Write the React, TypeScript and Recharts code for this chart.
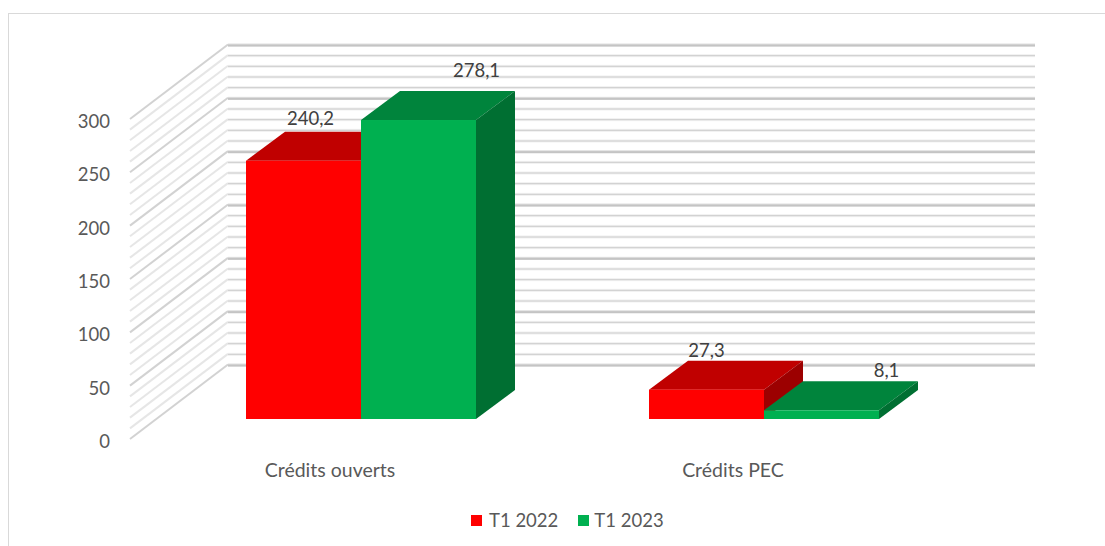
import { BarChart, Bar, XAxis, YAxis, Legend, LabelList, CartesianGrid } from 'recharts';

const categories = ['Crédits ouverts', 'Crédits PEC'];
const t12022 = [240.2, 27.3];
const t12023 = [278.1, 8.1];
const gridTicks = [0, 10, 20, 30, 40, 50, 60, 70, 80, 90, 100, 110, 120, 130, 140, 150, 160, 170, 180, 190, 200, 210, 220, 230, 240, 250, 260, 270, 280, 290, 300];

const data = categories.map((name, i) => ({ name, t12022: t12022[i], t12023: t12023[i] }));

const FONT = 'Lato, sans-serif';
// depth of the fake 3D box and of the walls
const BAR_DX = 39;
const BAR_DY = 29;
const WALL_DX = 98;
const WALL_DY = 74.5;
const WALL_LEFT = 130;
const WALL_RIGHT = 1035;

// hand placed labels, like in the original sheet
const redNudge = [{ dx: 7, dy: -14 }, { dx: 0, dy: -11 }];
const greenNudge = [{ dx: 58, dy: -21 }, { dx: 65, dy: -11 }];

function Box({ x, y, width, height, front, top, side }: any) {
  const r = x + width;
  const b = y + height;
  return (
    <g>
      <polygon points={`${x},${y} ${r},${y} ${r + BAR_DX},${y - BAR_DY} ${x + BAR_DX},${y - BAR_DY}`} fill={top} />
      <polygon points={`${r},${y} ${r + BAR_DX},${y - BAR_DY} ${r + BAR_DX},${b - BAR_DY} ${r},${b}`} fill={side} />
      <rect x={x} y={y} width={width} height={height} fill={front} />
    </g>
  );
}

// side wall and back wall for one grid line, y comes from the axis scale
function WallLine({ y1, index }: any) {
  const major = gridTicks[index] % 50 === 0;
  const backY = y1 - WALL_DY;
  const x1 = WALL_LEFT;
  const x2 = WALL_LEFT + WALL_DX;
  return (
    <g key={index}>
      <line x1={x1} y1={y1} x2={x2} y2={backY} stroke={major ? '#d2d2d2' : '#e6e6e6'} strokeWidth={2} />
      <rect x={x2} y={backY - 1} width={WALL_RIGHT - x2} height={3} fill={major ? '#e0e0e0' : '#f0f0f0'} />
      <rect x={x2} y={backY} width={WALL_RIGHT - x2} height={major ? 2 : 1} fill={major ? '#c4c4c4' : '#cdcdcd'} />
    </g>
  );
}

function ValueTick({ y, payload }: any) {
  if (payload.value % 50 !== 0) return <g />;
  return (
    <text x={110} y={y} dy={9} textAnchor="end" fontFamily={FONT} fontSize={18.5} fill="#595959">
      {payload.value}
    </text>
  );
}

function CategoryTick({ x, y, payload }: any) {
  return (
    <text x={x - 30.5} y={y + 30} textAnchor="middle" fontFamily={FONT} fontSize={19.5} fill="#595959">
      {payload.value}
    </text>
  );
}

function makeLabel(nudge: { dx: number; dy: number }[]) {
  return function ValueLabel({ x, y, width, value, index }: any) {
    const n = nudge[index];
    return (
      <text
        x={x + width / 2 + n.dx}
        y={y - BAR_DY + n.dy}
        dy={7}
        textAnchor="middle"
        fontFamily={FONT}
        fontSize={18.5}
        fill="#404040"
      >
        {String(value).replace('.', ',')}
      </text>
    );
  };
}

function LegendRow({ payload }: any) {
  return (
    <div style={{ display: 'flex', fontFamily: FONT, fontSize: 18.5, color: '#595959', lineHeight: '20px' }}>
      {(payload || []).map((p: any, i: number) => (
        <div key={p.value} style={{ display: 'flex', alignItems: 'center', marginRight: i === 0 ? 20 : 0 }}>
          <span style={{ width: 11, height: 11, background: p.color, marginRight: i === 0 ? 7 : 5 }} />
          {p.value}
        </div>
      ))}
    </div>
  );
}

export default function App() {
  return (
    <div style={{ position: 'fixed', left: 0, top: 0, width: 1105, height: 546, overflow: 'hidden', background: '#fff' }}>
      <div
        style={{
          position: 'absolute',
          left: 8,
          top: 13,
          width: 1097,
          height: 533,
          borderLeft: '1px solid #d9d9d9',
          borderTop: '1.5px solid #d9d9d9',
          boxSizing: 'border-box',
        }}
      />
      <div style={{ position: 'absolute', left: 0, top: 0 }}>
        <BarChart
          width={1105}
          height={546}
          data={data}
          barSize={115}
          barGap={0}
          margin={{ top: 44, right: 140, bottom: 106, left: 158 }}
        >
          <CartesianGrid yAxisId="walls" vertical={false} syncWithTicks horizontal={(props: any) => <WallLine {...props} />} />
          <XAxis dataKey="name" axisLine={false} tickLine={false} tick={<CategoryTick />} interval={0} height={1} />
          <YAxis
            yAxisId="walls"
            width={1}
            domain={[0, 370.3]}
            ticks={gridTicks}
            interval={0}
            allowDataOverflow
            axisLine={false}
            tickLine={false}
            tick={<ValueTick />}
          />
          <YAxis yAxisId="bars" hide domain={[-18.6, 348.8]} allowDataOverflow />
          <Legend
            layout="horizontal"
            verticalAlign="middle"
            align="center"
            wrapperStyle={{ left: 471, top: 510, width: 220, bottom: 'auto', right: 'auto' }}
            content={<LegendRow />}
          />
          <Bar
            yAxisId="bars"
            dataKey="t12022"
            name="T1 2022"
            fill="#ff0000"
            isAnimationActive={false}
            shape={<Box front="#ff0000" top="#c00000" side="#9c0000" />}
          >
            <LabelList dataKey="t12022" content={makeLabel(redNudge)} />
          </Bar>
          <Bar
            yAxisId="bars"
            dataKey="t12023"
            name="T1 2023"
            fill="#00b050"
            isAnimationActive={false}
            shape={<Box front="#00b050" top="#00843c" side="#006f32" />}
          >
            <LabelList dataKey="t12023" content={makeLabel(greenNudge)} />
          </Bar>
        </BarChart>
      </div>
    </div>
  );
}
